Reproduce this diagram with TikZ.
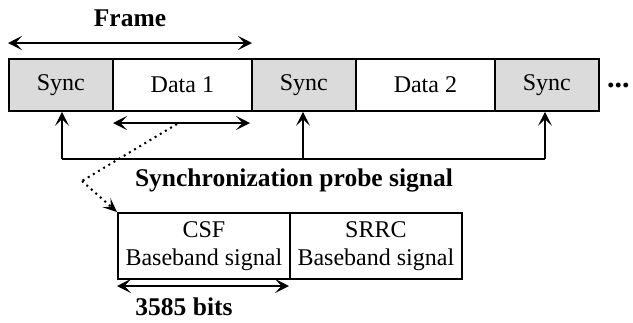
\documentclass[tikz,border=0pt]{standalone}
\usepackage{fontspec}
\setmainfont{Liberation Serif}
\usetikzlibrary{arrows.meta}
\begin{document}
\begin{tikzpicture}[x=1pt,y=-1pt,
  cell/.style={draw,line width=1.8pt,minimum height=52pt,inner sep=0pt,font=\fontsize{24}{26}\selectfont},
  sync/.style={cell,fill=black!14,minimum width=104pt},
  data/.style={cell,fill=white},
  sub/.style={draw,line width=1.8pt,minimum height=66pt,minimum width=172pt,inner sep=0pt,align=center,font=\fontsize{24}{28}\selectfont},
  lbl/.style={font=\bfseries\fontsize{25.5}{28}\selectfont,inner sep=0pt,anchor=base},
  dim/.style={line width=1.8pt,{Stealth[length=14pt,width=14pt,inset=6.5pt]}-{Stealth[length=14pt,width=14pt,inset=6.5pt]}},
  up/.style={line width=1.8pt,-{Stealth[length=14pt,width=14pt,inset=6.5pt]}}
]
\useasboundingbox (0,0) rectangle (633,322);
\node[sync,anchor=north west] (s1) at (8,58) {Sync};
\node[data,anchor=north west,minimum width=139pt] (d1) at (112,58) {Data 1};
\node[sync,anchor=north west] (s2) at (251,58) {Sync};
\node[data,anchor=north west,minimum width=139pt] (d2) at (355,58) {Data 2};
\node[sync,anchor=north west] (s3) at (494,58) {Sync};
\node[font=\bfseries\fontsize{30}{32}\selectfont,anchor=base west,inner sep=0pt] (dots) at (607,87) {...};
\node[lbl] (frame) at (130,26) {Frame};
\coordinate (fa) at (8,43);
\coordinate (fb) at (252,43);
\draw[dim] (fa) -- (fb);
\coordinate (ia) at (113,123);
\coordinate (ib) at (250,123);
\draw[dim] (ia) -- (ib);
\coordinate (u1) at (62,159);
\coordinate (u2) at (303,159);
\coordinate (u3) at (545,159);
\draw[line width=1.8pt] (u1) -- (u3);
\draw[up] (u1) -- (u1 |- s1.south);
\draw[up] (u2) -- (u2 |- s2.south);
\draw[up] (u3) -- (u3 |- s3.south);
\node[lbl] (probe) at (294,186) {Synchronization probe signal};
\node[sub,anchor=north west] (csf) at (117,212) {CSF\\Baseband signal};
\node[sub,anchor=north west] (srrc) at (289,212) {SRRC\\Baseband signal};
\coordinate (dstart) at (177,124);
\coordinate (dmid) at (82,181);
\draw[line width=2pt,dash pattern=on 2pt off 4pt] (dstart) -- (dmid);
\draw[line width=2pt,dash pattern=on 2pt off 4pt,-{Stealth[length=14pt,width=12pt,inset=6pt]}] (dmid) -- (csf.north west);
\coordinate (ba) at (117,286);
\coordinate (bb) at (289,286);
\draw[dim] (ba) -- (bb);
\node[lbl] (bits) at (184,315) {3585 bits};
\end{tikzpicture}
\end{document}
